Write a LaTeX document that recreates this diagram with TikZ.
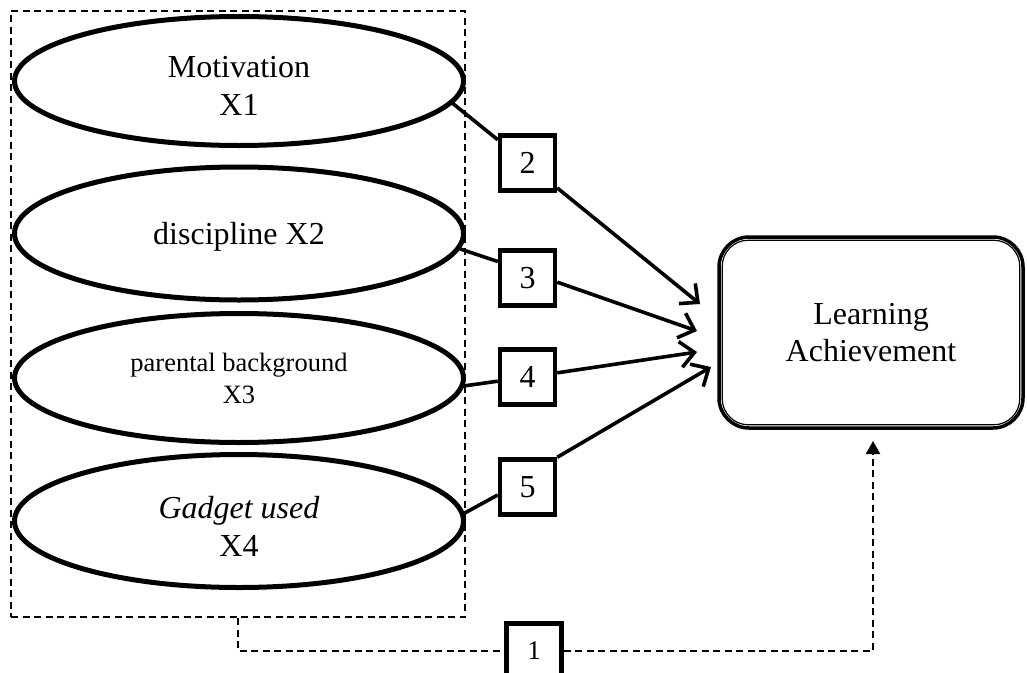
\documentclass[tikz,border=0pt]{standalone}
\usepackage{fontspec}
\setmainfont{Liberation Serif}
\usetikzlibrary{shapes.geometric,arrows.meta}
\newcommand{\lowertext}[2]{\raisebox{-#1}[\height][\depth]{#2}}
\begin{document}
\begin{tikzpicture}[x=1pt,y=-1pt,
  factor/.style={draw,ellipse,line width=5pt,inner sep=0pt,minimum width=449pt,minimum height=129pt,align=center,font=\fontsize{32}{38}\selectfont},
  numbox/.style={draw,line width=4.5pt,inner sep=0pt,minimum width=55pt,minimum height=55pt,font=\fontsize{32}{37}\selectfont},
  link/.style={line width=3.6pt},
  arr/.style={line width=3.6pt,-{Straight Barb[length=14pt,width=26pt,line width=3.6pt]}},
  grpdash/.style={line width=2pt,dash pattern=on 7pt off 4.5pt},
  outcome/.style={draw,line width=3.5pt,rounded corners=30pt,minimum width=304pt,minimum height=191pt,align=center,inner sep=0pt,font=\fontsize{32}{37}\selectfont}
]
\useasboundingbox (0,0) rectangle (1027,672);
% group
\node[grpdash,draw,minimum width=454pt,minimum height=606pt,inner sep=0pt] (grp) at (238,314) {};
% factors
\node[factor] (e1) at (239,81) {\lowertext{8pt}{\begin{tabular}{@{}c@{}}Motivation\\X1\end{tabular}}};
\node[factor,minimum height=133pt] (e2) at (239,233.5) {\lowertext{3pt}{discipline X2}};
\node[factor,font=\fontsize{26.5}{32}\selectfont] (e3) at (239,378) {parental background\\X3};
\node[factor,minimum height=133pt] (e4) at (239,521) {\lowertext{9pt}{\begin{tabular}{@{}c@{}}\textit{Gadget used}\\X4\end{tabular}}};
% number boxes
\node[numbox] (b2) at (527.5,163) {2};
\node[numbox] (b3) at (527.5,278) {3};
\node[numbox] (b4) at (527.5,377) {4};
\node[numbox] (b5) at (527.5,487) {5};
\node[numbox,font=\fontsize{27}{32}\selectfont] (b1) at (534,651) {1};
% outcome
\node[outcome] (la) at (871,332.5) {\lowertext{3pt}{\begin{tabular}{@{}c@{}}Learning\\Achievement\end{tabular}}};
\draw[line width=1.2pt,rounded corners=26pt] ([shift={(5,-5)}]la.south west) rectangle ([shift={(-5,5)}]la.north east);
% arrow tips
\coordinate (t2) at (700,304);
\coordinate (t3) at (697,331);
\coordinate (t4) at (697,352);
\coordinate (t5) at (711,367);
\coordinate (t1) at (873,441);
% links
\draw[link] (e1.-6) -- (b2.142);
\draw[link] (e2.-4) -- (b3.151);
\draw[link] (e3.-2) -- (b4.188);
\draw[link] (e4.2) -- (b5.195);
\draw[arr] (b2.-40) -- (t2);
\draw[arr] (b3.-8) -- (t3);
\draw[arr] (b4.8) -- (t4);
\draw[arr] (b5.north east) -- (t5);
% dashed path
\draw[grpdash] (grp.south) |- (b1.west);
\draw[grpdash,-{Triangle[length=13pt,width=14pt]}] (b1.east) -| (t1);
\end{tikzpicture}
\end{document}
